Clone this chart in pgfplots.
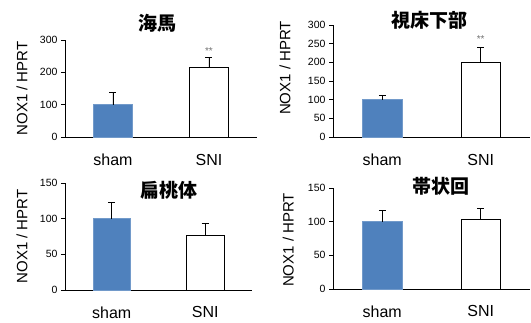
\documentclass[border=0pt]{standalone}
\usepackage{fontspec}
\setmainfont{Liberation Sans}
\newfontfamily\cjk{Noto Sans CJK JP}
\usepackage{pgfplots}
\pgfplotsset{compat=1.18}
\definecolor{xblue}{HTML}{4F81BD}
\pgfplotsset{
  myax/.style={
    scale only axis,
    anchor=south west,
    clip=false,
    axis x line*=bottom, axis y line*=left,
    axis line style={-, black, line width=0.8pt},
    xmin=-0.5, xmax=1.5,
    xtick={0,1}, xticklabels={sham,SNI},
    major x tick style={draw=none},
    x tick label style={font=\fontsize{16}{16}\selectfont, yshift=-9.5pt},
    ymin=0,
    tick align=outside,
    major tick length=4pt,
    major y tick style={black, line width=0.8pt},
    y tick label style={font=\fontsize{10.5}{10.5}\selectfont},
    /pgf/number format/assume math mode=true,
    ylabel={NOX1 / HPRT},
    ybar, bar width=0.4, bar shift=0pt,
  },
  shamb/.style={fill=xblue, draw=xblue!80!white, line width=0.6pt,
    error bars/.cd, y dir=plus, y explicit,
    error bar style={black, line width=0.6pt},
    error mark options={rotate=90, mark size=3.5pt, black, line width=0.6pt}},
  snib/.style={fill=white, draw=black, line width=0.8pt,
    error bars/.cd, y dir=plus, y explicit,
    error bar style={black, line width=0.6pt},
    error mark options={rotate=90, mark size=3.5pt, black, line width=0.6pt}},
}
\begin{document}
\begin{tikzpicture}
\useasboundingbox (0,0) rectangle (531pt,322pt);
% top-left
\begin{axis}[myax, at={(65pt,185pt)}, width=192pt, height=97pt,
  ymax=300, ytick={0,100,200,300},
  ylabel style={font=\fontsize{15}{15}\selectfont, at={(axis description cs:-0.224,0.5)}, anchor=center}]
\addplot[shamb] coordinates {(0,100) +- (0,38)};
\addplot[snib] coordinates {(1,215) +- (0,30)};
\node[font=\fontsize{10}{10}\selectfont, text=black!55] at (axis cs:1,266) {**};
\end{axis}
% top-right
\begin{axis}[myax, at={(333pt,185pt)}, width=197pt, height=112pt,
  ymax=300, ytick={0,50,100,150,200,250,300},
  ylabel style={font=\fontsize{15}{15}\selectfont, at={(axis description cs:-0.244,0.616)}, anchor=center}]
\addplot[shamb] coordinates {(0,100) +- (0,11)};
\addplot[snib] coordinates {(1,200) +- (0,40)};
\node[font=\fontsize{10}{10}\selectfont, text=black!55] at (axis cs:1,262) {**};
\end{axis}
% bottom-left
\begin{axis}[myax, at={(65pt,32pt)}, width=187pt, height=107pt,
  ymax=150, ytick={0,50,100,150},
  x tick label style={yshift=0.5pt},
  ylabel style={font=\fontsize{15}{15}\selectfont, at={(axis description cs:-0.23,0.5)}, anchor=center}]
\addplot[shamb] coordinates {(0,100) +- (0,23)};
\addplot[snib] coordinates {(1,76) +- (0,17)};
\end{axis}
% bottom-right
\begin{axis}[myax, at={(333pt,33pt)}, width=197pt, height=101pt,
  ymax=150, ytick={0,50,100,150},
  x tick label style={yshift=0.5pt},
  ylabel style={font=\fontsize{15}{15}\selectfont, at={(axis description cs:-0.227,0.485)}, anchor=center}]
\addplot[shamb] coordinates {(0,100) +- (0,17)};
\addplot[snib] coordinates {(1,103) +- (0,17)};
\end{axis}
% titles
\node[font={\cjk\bfseries\fontsize{19}{19}\selectfont}] at (157.5pt,298.5pt) {海馬};
\node[font={\cjk\bfseries\fontsize{19}{19}\selectfont}] at (429pt,302pt) {視床下部};
\node[font={\cjk\bfseries\fontsize{19}{19}\selectfont}] at (169pt,132pt) {扁桃体};
\node[font={\cjk\bfseries\fontsize{19}{19}\selectfont}] at (441pt,136pt) {帯状回};
\end{tikzpicture}
\end{document}
